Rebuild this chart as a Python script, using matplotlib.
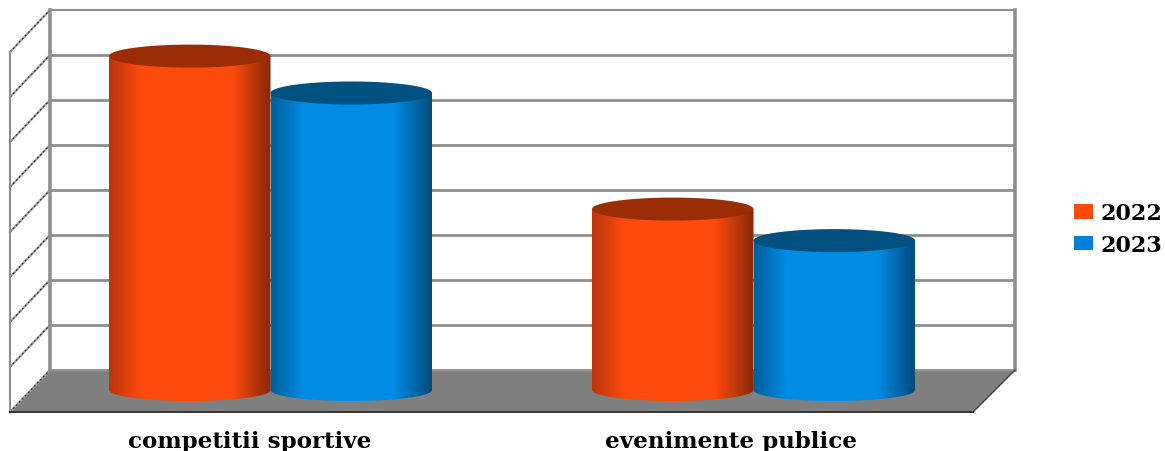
import numpy as np
import matplotlib
matplotlib.use("Agg")
import matplotlib.pyplot as plt
from matplotlib.colors import LinearSegmentedColormap
from matplotlib.patches import Polygon, Patch

categories = ["competitii sportive", "evenimente publice"]
series_names = ["2022", "2023"]
values_2022 = [37.1, 20.1]
values_2023 = [33.0, 16.6]
grid_values = [0, 5, 10, 15, 20, 25, 30, 35, 40]

FW, FH = 1165, 452
PX_PER_CAT = 483.0
PX_PER_VAL = 9.0
CAT0_PX = 270.5
BASE_PX = 391.0

fig = plt.figure(figsize=(FW / 100, FH / 100), dpi=100)
ax = fig.add_axes([0, 0, 1, 1])
ax.set_xlim(-CAT0_PX / PX_PER_CAT, (FW - CAT0_PX) / PX_PER_CAT)
ax.set_ylim((BASE_PX - FH) / PX_PER_VAL, BASE_PX / PX_PER_VAL)
ax.axis("off")

dy = lambda p: p / PX_PER_VAL          # pixel length -> value units
xpx = lambda p: (p - CAT0_PX) / PX_PER_CAT
ypx = lambda p: (BASE_PX - p) / PX_PER_VAL

# Frame
back_l, back_r = xpx(50), xpx(1015)
front_l, front_r = xpx(10), xpx(973)
back_off = dy(BASE_PX - 371)           # value 0 on the back wall
front_y = ypx(413)
GRID = "#8e8e8e"

ax.add_patch(Polygon([(back_l, back_off), (back_r, back_off), (front_r, front_y), (front_l, front_y)],
                     closed=True, fc="#7f7f7f", ec="none", zorder=1))
for v in grid_values:
    yb = back_off + v
    yf = front_y + v
    lw = 1.5 if v == grid_values[-1] else 2.0
    ax.plot([back_l, back_r], [yb, yb], color=GRID, lw=lw, zorder=2, solid_capstyle="butt")
    ax.plot([front_l, back_l], [yf, yb], color="#a0a0a0", lw=1.6, zorder=2)
    ax.plot([front_l, back_l], [yf, yb], color="#333333", lw=0.9, ls=(0, (1.5, 2)), zorder=2.1)
top_b = back_off + grid_values[-1]
top_f = front_y + grid_values[-1]
ax.plot([back_l, back_l], [back_off, top_b], color=GRID, lw=2.6, zorder=2.2)
ax.plot([back_r, back_r], [back_off, top_b], color=GRID, lw=2.6, zorder=2.2)
ax.plot([front_l, front_l], [front_y, top_f], color=GRID, lw=1.5, zorder=2.2)
ax.plot([front_l, front_r], [front_y, front_y], color="#333333", lw=1.4, zorder=2.3)
ax.plot([front_r, back_r], [front_y, back_off], color="#4a4a4a", lw=1.1, zorder=2.3)

# Cylinders
BAR_W = 161.5 / PX_PER_CAT
STOPS = [0, 0.2, 0.76, 1]


def cylinder(xc, val, centre, edge_l, edge_r, cap, z):
    rx = BAR_W / 2
    ry_bot, ry_top = dy(11), dy(11.5)
    t = np.linspace(np.pi, 2 * np.pi, 80)
    bottom = np.c_[xc + rx * np.cos(t), ry_bot * np.sin(t)]
    outline = np.vstack([[xc - rx, val], bottom, [xc + rx, val]])
    body = Polygon(outline, closed=True, fc="none", ec="none", zorder=z)
    ax.add_patch(body)
    cmap = LinearSegmentedColormap.from_list(
        "c", list(zip(STOPS, [edge_l, centre, centre, edge_r])))
    im = ax.imshow(np.linspace(0, 1, 256)[None, :], cmap=cmap, aspect="auto",
                   extent=(xc - rx, xc + rx, -ry_bot, val), zorder=z, interpolation="bilinear")
    im.set_clip_path(body)
    th = np.linspace(0, 2 * np.pi, 120)
    ax.add_patch(Polygon(np.c_[xc + rx * np.cos(th), val + ry_top * np.sin(th)],
                         closed=True, fc=cap, ec="none", zorder=z + 0.1))


offset = BAR_W / 2
z = 3
for i in range(len(categories)):
    cylinder(i - offset, values_2022[i], "#ff4a0e", "#b8370b", "#872908", "#9a2c06", z)
    z += 1
    cylinder(i + offset, values_2023[i], "#008ce5", "#005f99", "#004a78", "#005080", z)
    z += 1

ax.set_xlim(-CAT0_PX / PX_PER_CAT, (FW - CAT0_PX) / PX_PER_CAT)
ax.set_ylim((BASE_PX - FH) / PX_PER_VAL, BASE_PX / PX_PER_VAL)

# Text
font = dict(family="DejaVu Serif", fontweight="bold", color="#000000")
label_centres = [xpx(250), xpx(731)]
for xc, name in zip(label_centres, categories):
    ax.text(xc, ypx(448), name, ha="center", va="baseline", fontsize=16.6, zorder=20, **font)

leg = ax.legend(handles=[Patch(fc="#ff4a0e", ec="none", label=series_names[0]),
                         Patch(fc="#0080d8", ec="none", label=series_names[1])],
                loc="center left", bbox_to_anchor=(1074 / FW, 1 - 230 / FH),
                frameon=False, handlelength=0.85, handleheight=0.6, handletextpad=0.36,
                labelspacing=0.42, borderpad=0, borderaxespad=0,
                prop=dict(family="DejaVu Serif", weight="bold", size=16))
leg.set_zorder(20)

fig.savefig("out.png", dpi=100, facecolor="white")
